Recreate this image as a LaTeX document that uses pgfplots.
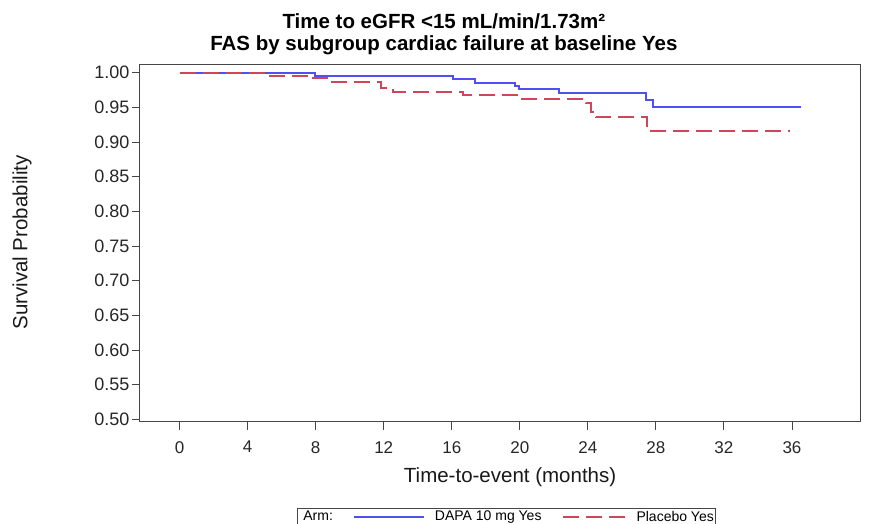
\documentclass[border=0pt]{standalone}
\usepackage{fontspec}
\setmainfont{Liberation Sans}
\usepackage{pgfplots}
\pgfplotsset{compat=1.18}
\definecolor{dapa}{RGB}{80,80,240}
\definecolor{plac}{RGB}{205,70,90}
\definecolor{axc}{RGB}{70,70,70}
\pgfplotsset{
  longleg/.style={legend image code/.code={\draw[##1] (0pt,0pt) -- (70pt,0pt);}},
  shortleg/.style={legend image code/.code={\draw[##1] (0pt,0pt) -- (63pt,0pt);}},
}
\begin{document}
\begin{tikzpicture}[x=1pt,y=1pt]
\useasboundingbox (0,0) rectangle (870,524);
\begin{axis}[
  at={(140pt,102.3pt)}, anchor=south west,
  scale only axis, width=720pt, height=356.7pt,
  xmin=-2.33, xmax=40, ymin=0.4965, ymax=1.0111,
  xtick={0,4,...,36},
  ytick={0.50,0.55,0.60,0.65,0.70,0.75,0.80,0.85,0.90,0.95,1.00},
  yticklabel={\pgfmathprintnumber[fixed,fixed zerofill,precision=2]{\tick}},
  /pgf/number format/assume math mode=true,
  tick align=outside, xtick pos=bottom, ytick pos=left,
  major tick length=8pt,
  axis line style={axc, line width=1pt},
  tick style={axc, line width=0.9pt},
  xticklabel style={font=\fontsize{17}{19}\selectfont, text=black!85, yshift=-8pt},
  yticklabel style={font=\fontsize{18}{20}\selectfont, text=black!85, xshift=1pt},
  xlabel={Time-to-event (months)},
  ylabel={Survival Probability},
  xlabel style={font=\fontsize{20.5}{22}\selectfont, text=black!90,
    at={(axis description cs:0.514,-0.1550)}, anchor=center},
  ylabel style={font=\fontsize{20.5}{22}\selectfont, text=black!90,
    at={(axis description cs:-0.1639,0.5024)}, anchor=center, rotate=0},
  title={Time to eGFR <15 mL/min/1.73m²\\FAS by subgroup cardiac failure at baseline Yes},
  title style={at={(axis description cs:0.422,1.0700)}, anchor=center, align=center,
    font=\fontsize{20.5}{22}\selectfont\bfseries},
  legend columns=-1,
  longleg,
  legend style={at={(axis description cs:0.218,-0.2419)}, anchor=north west,
    draw=axc, line width=0.8pt, font=\fontsize{14}{16}\selectfont,
    inner xsep=0pt, inner ysep=0pt,
    nodes={inner ysep=2.5pt, inner xsep=2pt},
    /tikz/every odd column/.append style={column sep=8pt},
    /tikz/every even column/.append style={column sep=18pt}},
]
\addlegendimage{empty legend}
\addlegendentry{\hspace*{-4pt}Arm:\hspace{11pt}}
\addplot[const plot, color=dapa, line width=2pt] coordinates {
  (0,1.000) (7.94,0.9957) (16.07,0.9909) (17.34,0.9856) (19.69,0.9812)
  (19.98,0.9760) (22.33,0.9703) (27.42,0.9606) (27.85,0.9510) (36.52,0.9510)
};
\addlegendentry{DAPA 10 mg Yes}
\addplot[const plot, color=plac, line width=2pt, dash pattern=on 16pt off 7pt, shortleg] coordinates {
  (0,1.000) (5.0,0.9957) (7.75,0.9920) (8.98,0.9861) (11.86,0.9775)
  (12.54,0.9717) (16.65,0.9678) (19.94,0.9616) (23.9,0.9558) (24.19,0.9437)
  (24.45,0.9356) (27.5,0.9159) (35.9,0.9159)
};
\addlegendentry{Placebo Yes}
\end{axis}
\end{tikzpicture}
\end{document}
